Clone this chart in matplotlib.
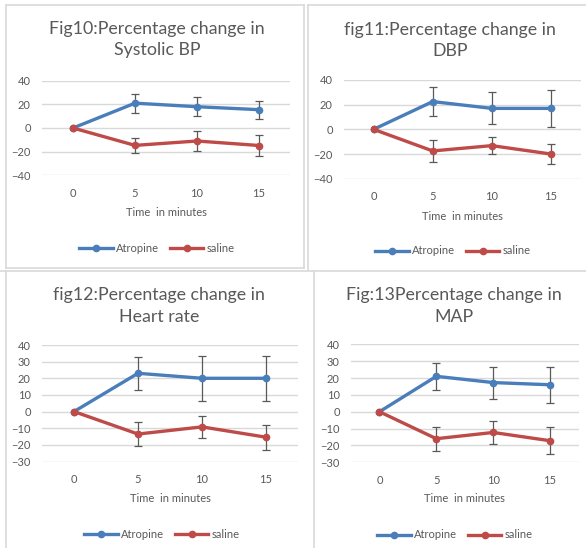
import matplotlib
matplotlib.use("Agg")
import matplotlib.pyplot as plt
from matplotlib.lines import Line2D

W, H = 586, 548

time_labels = ["0", "5", "10", "15"]

sbp_atropine = [0, 21, 18, 15.5]
sbp_atropine_err = [0, 8, 8, 7.5]
sbp_saline = [0, -14.7, -11, -14.8]
sbp_saline_err = [0, 6.5, 8.5, 8.5]

dbp_atropine = [0, 22.5, 17, 17]
dbp_atropine_err = [0, 12, 13, 15]
dbp_saline = [0, -17.5, -13.2, -20]
dbp_saline_err = [0, 9, 6.8, 8]

hr_atropine = [0, 23, 20, 20]
hr_atropine_err = [0, 10, 13.5, 13.5]
hr_saline = [0, -13.5, -9.2, -15.4]
hr_saline_err = [0, 7, 6.7, 7.5]

map_atropine = [0, 21, 17.3, 16]
map_atropine_err = [0, 8, 9.5, 10.7]
map_saline = [0, -16, -12.3, -17.2]
map_saline_err = [0, 7, 6.6, 8]

BLUE = "#4a7ebb"
RED = "#be4b48"
GREY = "#595959"
GRID = "#d9d9d9"
FONT = ["Lato", "DejaVu Sans"]

plt.rcParams["font.family"] = FONT

fig = plt.figure(figsize=(W / 100, H / 100), dpi=100)


def fx(x):
    return x / W


def fy(y):
    return 1 - y / H


def frame_line(x0, y0, x1, y1):
    fig.add_artist(Line2D([fx(x0), fx(x1)], [fy(y0), fy(y1)], color=GRID, lw=1.2))


# panel frames (screenshot pieces)
frame_line(6, 5, 304, 5)
frame_line(6, 5, 6, 268)
frame_line(304, 5, 304, 268)
frame_line(6, 268, 304, 268)
frame_line(308, 5, 586, 5)
frame_line(308, 5, 308, 270)
frame_line(0, 271, 586, 271)
frame_line(6, 271, 6, 548)
frame_line(314, 271, 314, 548)

panels = [
    dict(box=(42, 80.7, 290, 175.3), ylim=(-40, 40), step=20,
         title="Fig10:Percentage change in\nSystolic BP", tpos=(157, 39.5),
         xl=(166, 212), leg=(157, 248),
         a=sbp_atropine, ae=sbp_atropine_err, s=sbp_saline, se=sbp_saline_err),
    dict(box=(344, 80, 580.5, 178.7), ylim=(-40, 40), step=20,
         title="fig11:Percentage change in\nDBP", tpos=(450, 40.5),
         xl=(462, 216), leg=(453, 251),
         a=dbp_atropine, ae=dbp_atropine_err, s=dbp_saline, se=dbp_saline_err),
    dict(box=(42, 345, 298, 461.5), ylim=(-30, 40), step=10,
         title="fig12:Percentage change in\nHeart rate", tpos=(159, 306),
         xl=(170, 498), leg=(162, 534),
         a=hr_atropine, ae=hr_atropine_err, s=hr_saline, se=hr_saline_err),
    dict(box=(351, 344.3, 578.5, 462.3), ylim=(-30, 40), step=10,
         title="Fig:13Percentage change in\nMAP", tpos=(454, 306),
         xl=(464, 499), leg=(455, 535),
         a=map_atropine, ae=map_atropine_err, s=map_saline, se=map_saline_err),
]

x = list(range(len(time_labels)))

for p in panels:
    x0, y0, x1, y1 = p["box"]
    ax = fig.add_axes([fx(x0), fy(y1), fx(x1) - fx(x0), fy(y0) - fy(y1)])
    ax.set_xlim(-0.5, len(time_labels) - 0.5)
    ax.set_ylim(*p["ylim"])
    ax.set_yticks(range(p["ylim"][0], p["ylim"][1] + 1, p["step"]))
    ax.set_xticks(x)
    ax.set_xticklabels(time_labels)
    ax.grid(axis="y", color=GRID, lw=1)
    ax.set_axisbelow(True)
    for sp in ax.spines.values():
        sp.set_visible(False)
    ax.tick_params(length=0, labelsize=8, colors=GREY, pad=8)
    ax.tick_params(axis="x", pad=9)

    for vals, errs, col, name in [(p["a"], p["ae"], BLUE, "Atropine"),
                                  (p["s"], p["se"], RED, "saline")]:
        ax.errorbar(x[1:], vals[1:], yerr=errs[1:], fmt="none", ecolor=GREY,
                    elinewidth=0.9, capsize=2.6, capthick=0.9, zorder=2)
        ax.plot(x, vals, color=col, lw=2.4, marker="o", ms=4.5,
                label=name, zorder=3)

    fig.text(fx(p["tpos"][0]), fy(p["tpos"][1]), p["title"], ha="center",
             va="center", fontsize=12.8, color=GREY, linespacing=1.4)
    fig.text(fx(p["xl"][0]), fy(p["xl"][1]), "Time  in minutes", ha="center",
             va="center", fontsize=8, color=GREY)
    ax.legend(loc="center", bbox_to_anchor=(fx(p["leg"][0]), fy(p["leg"][1])),
              bbox_transform=fig.transFigure, ncol=2, frameon=False,
              fontsize=8, labelcolor=GREY, handlelength=3.0, handletextpad=0.3,
              columnspacing=1.0, borderpad=0)

fig.savefig("out.png", dpi=100, facecolor="white")
